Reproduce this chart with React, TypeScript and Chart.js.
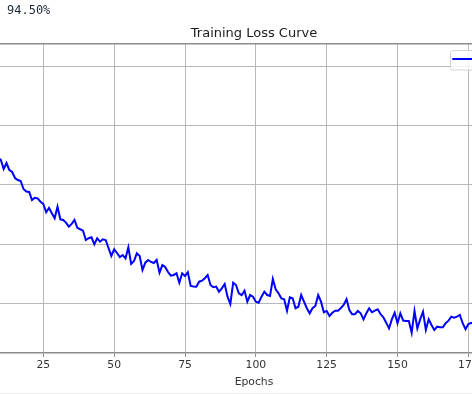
import React, { useEffect, useRef } from 'react';
import { Chart, registerables } from 'chart.js';

Chart.register(...registerables);

const ACCURACY_TEXT = '94.50%';
const CHART_TITLE = 'Training Loss Curve';
const SERIES_LABEL = 'Training Loss';
const X_LABEL = 'Epochs';
const START_EPOCH = 0;

// training loss per epoch (epoch 0 .. 199)
const lossValues = [
  2.05, 2.01, 1.97, 1.94, 1.90, 1.88, 1.83, 1.80, 1.77, 1.73,
  1.712, 1.635, 1.686, 1.627, 1.610, 1.559, 1.542, 1.534, 1.466, 1.445,
  1.441, 1.373, 1.392, 1.386, 1.358, 1.339, 1.269, 1.305, 1.260, 1.218,
  1.316, 1.209, 1.204, 1.181, 1.147, 1.170, 1.204, 1.138, 1.125, 1.113,
  1.034, 1.049, 1.057, 0.998, 1.049, 1.020, 1.040, 1.034, 0.966, 0.899,
  0.955, 0.924, 0.890, 0.907, 0.879, 0.972, 0.831, 0.856, 0.921, 0.899,
  0.780, 0.842, 0.865, 0.848, 0.839, 0.865, 0.757, 0.822, 0.805, 0.763,
  0.732, 0.738, 0.752, 0.672, 0.752, 0.729, 0.761, 0.645, 0.640, 0.639,
  0.681, 0.689, 0.710, 0.738, 0.653, 0.634, 0.639, 0.596, 0.625, 0.662,
  0.554, 0.492, 0.672, 0.653, 0.583, 0.568, 0.605, 0.512, 0.568, 0.554,
  0.512, 0.503, 0.554, 0.596, 0.568, 0.560, 0.704, 0.617, 0.583, 0.540,
  0.532, 0.435, 0.549, 0.540, 0.456, 0.469, 0.568, 0.512, 0.456, 0.413,
  0.456, 0.475, 0.568, 0.512, 0.422, 0.433, 0.391, 0.418, 0.435, 0.435,
  0.458, 0.484, 0.534, 0.441, 0.405, 0.405, 0.433, 0.413, 0.362, 0.413,
  0.456, 0.422, 0.435, 0.447, 0.407, 0.379, 0.334, 0.286, 0.362, 0.418,
  0.329, 0.413, 0.352, 0.348, 0.348, 0.249, 0.433, 0.286, 0.362, 0.427,
  0.272, 0.362, 0.314, 0.272, 0.300, 0.295, 0.295, 0.329, 0.351, 0.385,
  0.376, 0.385, 0.399, 0.329, 0.278, 0.323, 0.331, 0.334, 0.31, 0.30,
  0.33, 0.29, 0.28, 0.31, 0.30, 0.27, 0.29, 0.30, 0.26, 0.28,
  0.29, 0.27, 0.25, 0.28, 0.27, 0.26, 0.29, 0.25, 0.26, 0.27,
];

const xTickValues = [0, 25, 50, 75, 100, 125, 150, 175, 200];
const yTickValues = [0.5, 1.0, 1.5, 2.0, 2.5];

const X_MIN = -10.06;
const X_MAX = 208.76;
const Y_MIN = 0.077;
const Y_MAX = 2.694;

const FONT = '"DejaVu Sans", sans-serif';
const SPINE = '#8c8c8c';
const GRID = '#b8b8b8';

const insideLegend = {
  id: 'insideLegend',
  afterDraw(chart: any) {
    const { ctx, chartArea } = chart;
    const ds = chart.data.datasets[0];
    const fs = 10.8;
    ctx.save();
    ctx.font = `${fs}px ${FONT}`;
    const tw = ctx.measureText(ds.label).width;
    const padL = 2.3;
    const handle = 21.6;
    const gap = 8.6;
    const padR = 6.6;
    const w = padL + handle + gap + tw + padR;
    const h = 19.5;
    const right = chartArea.right - 5.4;
    const left = Math.round(right - w);
    const top = Math.round(chartArea.top + 6.3);
    ctx.beginPath();
    ctx.roundRect(left + 0.5, top + 0.5, w, h, 2.5);
    ctx.fillStyle = 'rgba(255,255,255,0.8)';
    ctx.fill();
    ctx.strokeStyle = '#d4d4d4';
    ctx.lineWidth = 1;
    ctx.stroke();
    const ly = top + 9;
    ctx.beginPath();
    ctx.moveTo(left + padL, ly);
    ctx.lineTo(left + padL + handle, ly);
    ctx.strokeStyle = ds.borderColor;
    ctx.lineWidth = ds.borderWidth;
    ctx.stroke();
    ctx.fillStyle = '#333';
    ctx.textBaseline = 'middle';
    ctx.textAlign = 'left';
    ctx.fillText(ds.label, left + padL + handle + gap, ly);
    ctx.restore();
  },
};

export default function App() {
  const ref = useRef<HTMLCanvasElement>(null);

  useEffect(() => {
    if (!ref.current) return;
    const chart = new Chart(ref.current, {
      type: 'line',
      data: {
        datasets: [
          {
            label: SERIES_LABEL,
            data: lossValues.map((v, i) => ({ x: START_EPOCH + i, y: v })),
            borderColor: '#0000ff',
            backgroundColor: '#0000ff',
            borderWidth: 2,
            pointRadius: 0,
            tension: 0,
            fill: false,
          },
        ],
      },
      plugins: [insideLegend],
      options: {
        animation: false,
        responsive: false,
        devicePixelRatio: 1,
        layout: { padding: { left: 20, right: 20, top: 0, bottom: 0 } },
        plugins: {
          legend: { display: false },
          tooltip: { enabled: false },
          title: {
            display: true,
            text: CHART_TITLE,
            color: '#1a1a1a',
            font: { family: FONT, size: 13, weight: 'normal' },
            padding: { top: 25.4, bottom: 3.0 },
          },
        },
        scales: {
          x: {
            type: 'linear',
            position: 'bottom',
            min: X_MIN,
            max: X_MAX,
            afterBuildTicks: (scale: any) => {
              scale.ticks = xTickValues.map((value) => ({ value }));
            },
            afterFit: (scale: any) => {
              scale.height = 41;
            },
            ticks: {
              autoSkip: false,
              maxRotation: 0,
              padding: 1.5,
              color: '#333',
              font: { family: FONT, size: 10.8 },
              callback: (v: any) => String(v),
            },
            grid: {
              color: GRID,
              lineWidth: 1,
              tickColor: SPINE,
              tickLength: 4,
              tickWidth: 1,
            },
            border: { display: true, color: SPINE, width: 1.5 },
            title: {
              display: true,
              text: X_LABEL,
              color: '#333',
              font: { family: FONT, size: 10.8 },
              padding: { top: 0, bottom: 5.6 },
            },
          },
          xTop: {
            type: 'linear',
            position: 'top',
            min: 0,
            max: 1,
            afterFit: (scale: any) => {
              scale.height = 0;
            },
            ticks: { display: false },
            grid: { display: false, drawTicks: false },
            border: { display: true, color: SPINE, width: 1.5 },
          },
          y: {
            type: 'linear',
            min: Y_MIN,
            max: Y_MAX,
            afterBuildTicks: (scale: any) => {
              scale.ticks = yTickValues.map((value) => ({ value }));
            },
            afterFit: (scale: any) => {
              scale.width = 0;
            },
            ticks: { display: false },
            grid: { color: GRID, lineWidth: 1, drawTicks: false },
            border: { display: false },
          },
        },
      } as any,
    });
    return () => chart.destroy();
  }, []);

  return (
    <div
      style={{
        position: 'fixed',
        left: 0,
        top: 0,
        width: 472,
        height: 394,
        overflow: 'hidden',
        background: '#ffffff',
      }}
    >
      <canvas
        ref={ref}
        width={660}
        height={394}
        style={{ position: 'absolute', left: -76, top: 0, width: 660, height: 394 }}
      />
      <div
        style={{
          position: 'absolute',
          left: 7,
          top: 3,
          fontFamily: '"DejaVu Sans Mono", monospace',
          fontSize: 12,
          lineHeight: '14px',
          color: '#1f2a38',
          whiteSpace: 'pre',
        }}
      >
        {ACCURACY_TEXT}
      </div>
      <div
        style={{
          position: 'absolute',
          left: 0,
          top: 393,
          width: 472,
          height: 1,
          background: '#ececec',
        }}
      />
    </div>
  );
}
